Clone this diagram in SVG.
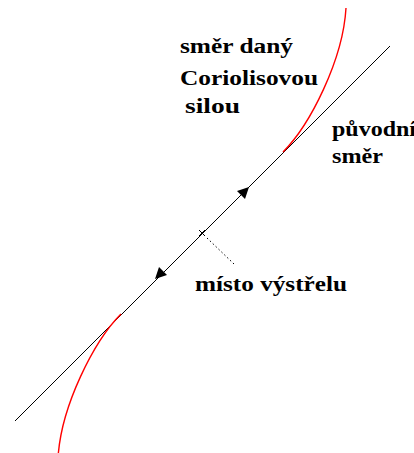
<svg xmlns="http://www.w3.org/2000/svg" width="414" height="453" viewBox="0 0 414 453">
<style>
text{font-family:"Liberation Serif","DejaVu Serif",serif;font-weight:bold;font-size:20px;fill:#000}
.ln{stroke:#000;stroke-width:1;fill:none}
.red{stroke:#f00;stroke-width:1.4;fill:none}
.ah{fill:#000}
</style>
<rect width="414" height="453" fill="#fff"/>
<g id="connectors">
<line class="ln" x1="15" y1="421" x2="390" y2="46"/>
<path class="red" d="M283,152 C310,125 343,60 346,8"/>
<path class="red" d="M121,314 C94,341 61,406 58,458"/>
<polygon class="ah" points="249,187 245,199 237,191"/>
<polygon class="ah" points="155,279 159,267 167,275"/>
<line class="ln" x1="207" y1="238" x2="234" y2="264" stroke-dasharray="1.5,2.5"/>
<path class="ln" d="M199,230 L205,236 M205,230 L199,236" stroke-width="2"/>
</g>
<g id="label-coriolis">
<text x="180" y="53" textLength="113" lengthAdjust="spacingAndGlyphs">směr daný</text>
<text x="180" y="85" textLength="138" lengthAdjust="spacingAndGlyphs">Coriolisovou</text>
<text x="185" y="113" textLength="55" lengthAdjust="spacingAndGlyphs">silou</text>
</g>
<g id="label-puvodni">
<text x="332" y="136" textLength="84" lengthAdjust="spacingAndGlyphs">původní</text>
<text x="332" y="163" textLength="51" lengthAdjust="spacingAndGlyphs">směr</text>
</g>
<g id="label-misto">
<text x="195" y="291" textLength="152" lengthAdjust="spacingAndGlyphs">místo výstřelu</text>
</g>
</svg>
